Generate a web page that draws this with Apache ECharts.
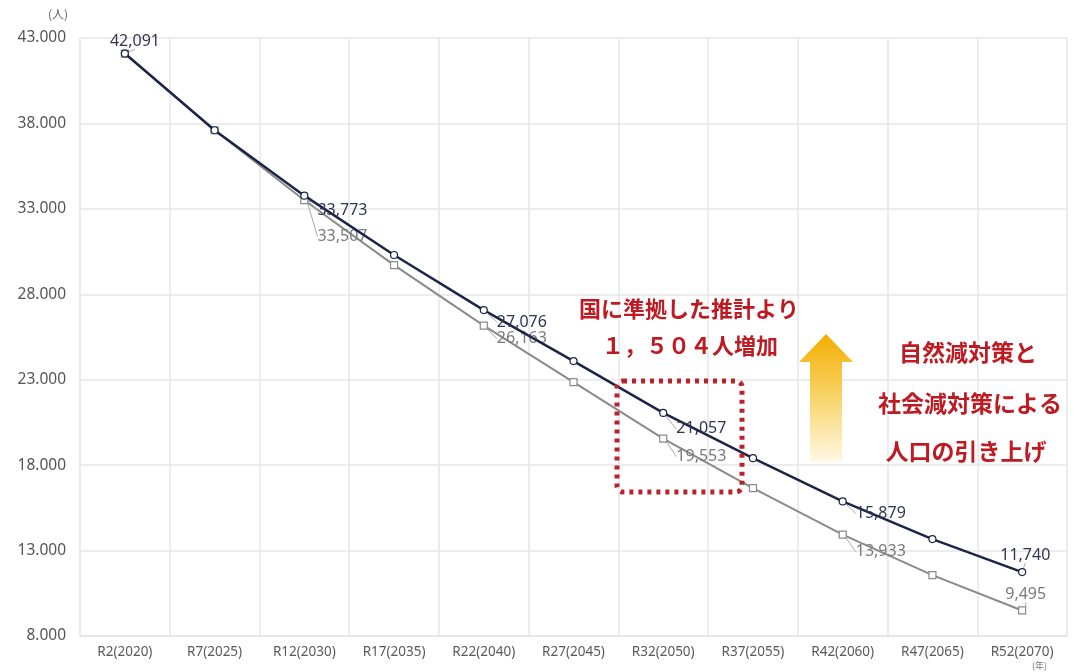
<!DOCTYPE html>
<html>
<head>
<meta charset="utf-8">
<script src="https://cdn.jsdelivr.net/npm/echarts@6/dist/echarts.min.js"></script>
<style>
  html, body { margin: 0; padding: 0; background: #fff; }
  #chart { width: 1076px; height: 672px; }
</style>
</head>
<body>
<div id="chart"></div>
<script>
// 年次（和暦）
var years = ['R2(2020)', 'R7(2025)', 'R12(2030)', 'R17(2035)', 'R22(2040)', 'R27(2045)',
             'R32(2050)', 'R37(2055)', 'R42(2060)', 'R47(2065)', 'R52(2070)'];
// 独自推計（対策あり）
var ownValues = [42091, 37600, 33773, 30300, 27076, 24090, 21057, 18410, 15879, 13670, 11740];
// 国に準拠した推計
var natValues = [42091, 37600, 33507, 29710, 26163, 22860, 19553, 16650, 13933, 11560, 9495];
// ラベルを出す年
var ownLabelIdx = [0, 2, 4, 6, 8, 10];
var natLabelIdx = [2, 4, 6, 8, 10];
// ラベル位置のずらし量
var ownDy = [0, 0, 15, 0, 12, 0, 16, 0, 12, 0, 0];
var natDy = [0, 0, 36, 0, 13, 0, 18, 0, 17, 0, 0];

function fmt(v) {
    return String(v).replace(/\B(?=(\d{3})+(?!\d))/g, ',');
}

// ラベルの無い点は引き出し線も消す
function makeData(values, idx) {
    return values.map(function (v, i) {
        if (idx.indexOf(i) >= 0) return { value: v };
        return { value: v, label: { show: false }, labelLine: { show: false } };
    });
}

var myChart = echarts.init(document.getElementById('chart'));

var option = {
    backgroundColor: '#fff',
    animation: false,
    grid: { left: 80, right: 9, top: 38, bottom: 36 },
    xAxis: {
        type: 'category',
        data: years,
        boundaryGap: true,
        axisTick: { show: false },
        axisLine: { lineStyle: { color: '#e3e3e3', width: 1.5 } },
        axisLabel: { color: '#5a5a5a', fontSize: 13.5, margin: 9, fontFamily: 'Noto Sans', interval: 0 },
        splitLine: { show: true, lineStyle: { color: '#e6e6e6', width: 1.5 } }
    },
    yAxis: {
        type: 'value',
        min: 8000,
        max: 43000,
        interval: 5000,
        axisLine: { show: false },
        axisTick: { show: false },
        axisLabel: {
            color: '#555', fontSize: 15.5, margin: 14, fontFamily: 'Noto Sans',
            formatter: function (v) { return String(v).replace(/\B(?=(\d{3})+(?!\d))/g, '.'); }
        },
        splitLine: { lineStyle: { color: '#e6e6e6', width: 1.5 } }
    },
    series: [
        {
            name: '国準拠',
            type: 'line',
            data: makeData(natValues, natLabelIdx),
            symbol: 'rect',
            symbolSize: 7,
            lineStyle: { color: '#8a8a8a', width: 2 },
            itemStyle: { color: '#fff', borderColor: '#8a8a8a', borderWidth: 1.2 },
            label: {
                show: true,
                position: 'right',
                distance: 9,
                color: '#7a7a7a',
                fontSize: 16,
                fontFamily: 'Noto Sans',
                formatter: function (p) { return fmt(p.value); }
            },
            labelLine: { show: true, lineStyle: { color: '#aaa', width: 1 } },
            labelLayout: function (p) {
                if (p.dataIndex === 10) return { dx: -30, dy: -16 };
                return { dy: natDy[p.dataIndex] };
            },
            z: 2
        },
        {
            name: '独自推計',
            type: 'line',
            data: makeData(ownValues, ownLabelIdx),
            symbol: 'circle',
            symbolSize: 7,
            lineStyle: { color: '#1c2547', width: 2.5 },
            itemStyle: { color: '#fff', borderColor: '#1c2547', borderWidth: 1.2 },
            label: {
                show: true,
                position: 'right',
                distance: 9,
                color: '#2f3650',
                fontSize: 16,
                fontFamily: 'Noto Sans',
                formatter: function (p) { return fmt(p.value); }
            },
            labelLine: { show: true, lineStyle: { color: '#aaa', width: 1 } },
            labelLayout: function (p) {
                if (p.dataIndex === 0) return { dx: -28, dy: -12 };
                if (p.dataIndex === 10) return { dx: -35, dy: -17 };
                return { dy: ownDy[p.dataIndex] };
            },
            z: 3
        }
    ],
    graphic: [
        { type: 'text', left: 48, top: 8, style: { text: '(人)', fill: '#666', fontSize: 12, fontFamily: 'Noto Sans CJK JP' } },
        { type: 'text', left: 1032, top: 661, style: { text: '(年)', fill: '#777', fontSize: 9, fontFamily: 'Noto Sans CJK JP' } },
        // 点線の枠
        {
            type: 'rect',
            shape: { x: 617, y: 381, width: 125, height: 111, r: 6 },
            style: { fill: null, stroke: '#b8232b', lineWidth: 5, lineDash: [4, 5] },
            z: 10
        },
        // 矢印
        {
            type: 'polygon',
            shape: { points: [[826, 334], [853, 362], [842, 362], [842, 462], [810, 462], [810, 362], [799, 362]] },
            style: {
                fill: new echarts.graphic.LinearGradient(0, 0, 0, 1, [
                    { offset: 0, color: '#f3ae00' },
                    { offset: 0.5, color: '#f8d46a' },
                    { offset: 1, color: '#fff8e6' }
                ])
            },
            z: 10
        },
        {
            type: 'text', x: 689, y: 309, z: 11,
            style: { text: '国に準拠した推計より', align: 'center', verticalAlign: 'middle', fill: '#bf1a22',
                     stroke: '#fff', lineWidth: 3, fontSize: 22, fontWeight: 'bold', fontFamily: 'Noto Sans CJK JP' }
        },
        {
            type: 'text', x: 690, y: 346, z: 11,
            style: { text: '１，５０４人増加', align: 'center', verticalAlign: 'middle', fill: '#bf1a22',
                     stroke: '#fff', lineWidth: 3, fontSize: 22, fontWeight: 'bold', fontFamily: 'Noto Sans CJK JP' }
        },
        {
            type: 'text', x: 968, y: 352, z: 11,
            style: { text: '自然減対策と', align: 'center', verticalAlign: 'middle', fill: '#bf1a22',
                     stroke: '#fff', lineWidth: 3, fontSize: 23, fontWeight: 'bold', fontFamily: 'Noto Sans CJK JP' }
        },
        {
            type: 'text', x: 970, y: 403, z: 11,
            style: { text: '社会減対策による', align: 'center', verticalAlign: 'middle', fill: '#bf1a22',
                     stroke: '#fff', lineWidth: 3, fontSize: 23, fontWeight: 'bold', fontFamily: 'Noto Sans CJK JP' }
        },
        {
            type: 'text', x: 966, y: 451, z: 11,
            style: { text: '人口の引き上げ', align: 'center', verticalAlign: 'middle', fill: '#bf1a22',
                     stroke: '#fff', lineWidth: 3, fontSize: 23, fontWeight: 'bold', fontFamily: 'Noto Sans CJK JP' }
        }
    ]
};

myChart.setOption(option, true);
</script>
</body>
</html>
